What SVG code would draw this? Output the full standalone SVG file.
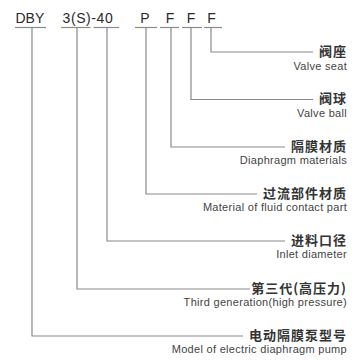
<svg xmlns="http://www.w3.org/2000/svg" width="354" height="360" viewBox="0 0 354 360">
<style>
.code{font-family:"Liberation Sans",Arial,sans-serif;font-size:14px;fill:#2a2a2a}
.ul{stroke:#8a8a8a;stroke-width:1.2;fill:none}
.conn{stroke:#8a8a8a;stroke-width:1.2;fill:none}
.cn{font-family:"Noto Sans CJK SC","Noto Sans",sans-serif;font-size:13px;font-weight:bold;fill:#333;text-anchor:end;letter-spacing:1px}
.en{font-family:"Liberation Sans",Arial,sans-serif;font-size:11px;fill:#444;text-anchor:end;letter-spacing:0.3px}
</style>
<rect width="354" height="360" fill="#ffffff"/>
<g id="code-dby"><text class="code" x="15.5" y="23.3">DBY</text><line class="ul" x1="15" y1="27.5" x2="46" y2="27.5"/></g>
<g id="code-3s40"><text class="code" x="62.5" y="23.3" letter-spacing="0.6">3(S)-40</text><line class="ul" x1="61" y1="27.5" x2="90.5" y2="27.5"/><line class="ul" x1="93.5" y1="27.5" x2="119" y2="27.5"/></g>
<g id="code-p"><text class="code" x="145" y="23.3" text-anchor="middle">P</text><line class="ul" x1="135" y1="27.5" x2="157" y2="27.5"/></g>
<g id="code-f1"><text class="code" x="170" y="23.3" text-anchor="middle">F</text><line class="ul" x1="160" y1="27.5" x2="179" y2="27.5"/></g>
<g id="code-f2"><text class="code" x="191" y="23.3" text-anchor="middle">F</text><line class="ul" x1="182" y1="27.5" x2="202" y2="27.5"/></g>
<g id="code-f3"><text class="code" x="211.5" y="23.3" text-anchor="middle">F</text><line class="ul" x1="204" y1="27.5" x2="222" y2="27.5"/></g>
<g id="connectors">
<polyline class="conn" points="211,27.5 211,52 313,52"/>
<polyline class="conn" points="191,27.5 191,99.5 313,99.5"/>
<polyline class="conn" points="171,27.5 171,147 285,147"/>
<polyline class="conn" points="146,27.5 146,194 257,194"/>
<polyline class="conn" points="107,27.5 107,241 285,241"/>
<polyline class="conn" points="77,27.5 77,289 250,289"/>
<polyline class="conn" points="32,27.5 32,336 243,336"/>
</g>
<g id="label-seat"><text class="cn" x="347" y="55.5">阀座</text><text class="en" x="347" y="69.5">Valve seat</text></g>
<g id="label-ball"><text class="cn" x="347" y="103">阀球</text><text class="en" x="347" y="117">Valve ball</text></g>
<g id="label-diaphragm"><text class="cn" x="347" y="150.5">隔膜材质</text><text class="en" x="347" y="164">Diaphragm materials</text></g>
<g id="label-fluid"><text class="cn" x="347" y="197.5">过流部件材质</text><text class="en" x="347" y="211">Material of fluid contact part</text></g>
<g id="label-inlet"><text class="cn" x="347" y="244.5">进料口径</text><text class="en" x="347" y="258">Inlet diameter</text></g>
<g id="label-generation"><text class="cn" x="347" y="292.5">第三代(高压力)</text><text class="en" x="347" y="306">Third generation(high pressure)</text></g>
<g id="label-model"><text class="cn" x="347" y="339.5">电动隔膜泵型号</text><text class="en" x="347" y="353">Model of electric diaphragm pump</text></g>
</svg>
